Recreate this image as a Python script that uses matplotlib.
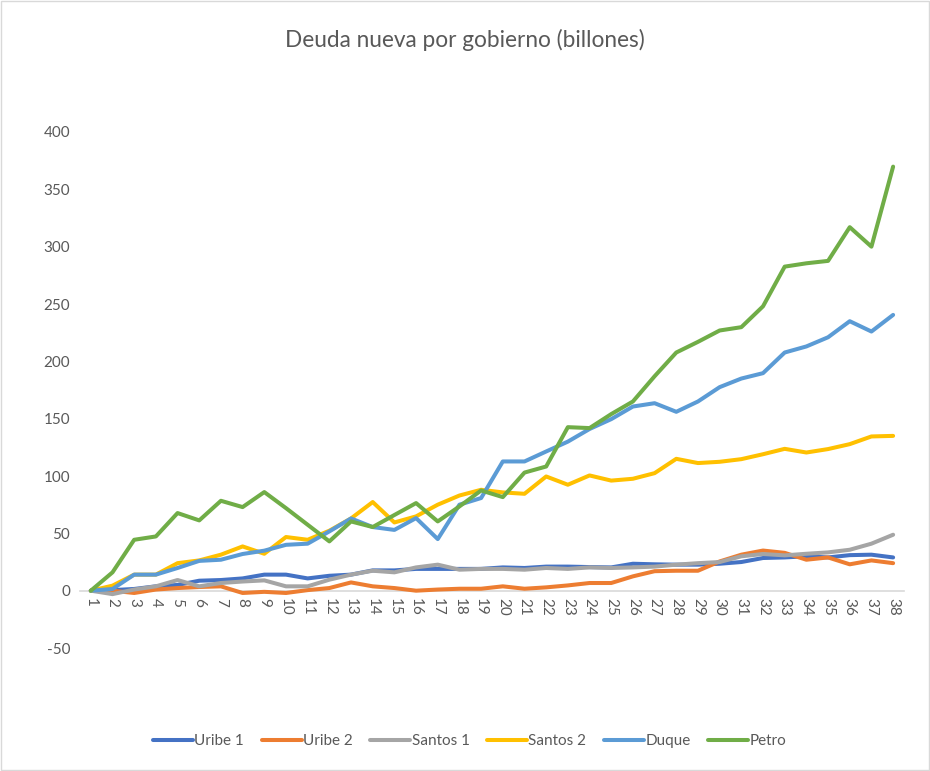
import matplotlib
matplotlib.use("Agg")
import matplotlib.pyplot as plt
from matplotlib.patches import Rectangle

plt.rcParams['font.family'] = ['Lato', 'DejaVu Sans']

periods = list(range(1, 39))
tick_labels = [str(p) for p in periods]

uribe1 = [0, 0.5, 1.5, 3.8, 5, 8.7, 9.3, 10.7, 14, 14, 10.7, 13, 14,
          17.7, 17.7, 19, 19, 19, 19, 20.3, 19.8, 21, 21, 20.6, 20.3,
          23.5, 23, 22.7, 22.7, 23.5, 25, 28.5, 29, 30, 29, 31, 31.4, 29]
uribe2 = [0, 0, -2, 1, 2.3, 3.2, 3.8, -2, -1, -2, 0.5, 2.3, 7.2,
          3.8, 2.3, 0, 1, 1.7, 1.7, 3.8, 1.7, 2.9, 4.6, 6.7, 6.7,
          12.5, 17, 17.4, 17.4, 25.5, 31.4, 35, 33, 27, 29, 23, 26.4, 24]
santos1 = [0, -3, 1, 3.8, 9.3, 3.8, 6.7, 8, 9, 3.8, 3.8, 9.6, 14,
           17.4, 16, 20.3, 22.7, 18.3, 19, 19, 18.3, 19.8, 19, 20.3, 19.8,
           20.3, 21, 22.7, 24, 25, 30, 32, 30.8, 32.2, 33.4, 35.7, 41, 48.8]
santos2 = [0, 4.4, 14, 14, 24, 26.4, 31.4, 38.6, 32.2, 46.8, 44.4, 52.3, 63,
           77.3, 59.5, 64.8, 75, 83, 88, 85.7, 84.5, 99.6, 92.4, 100.5, 96,
           97.6, 102.5, 115, 111.3, 112.4, 114.7, 119, 123.7, 120.5, 123.5, 127.8, 134.5, 135]
duque = [0, 1.5, 14, 14, 19.8, 26, 27, 32, 34.9, 40, 41, 51.7, 63,
         55.5, 53, 63.3, 45, 75, 80.8, 112.7, 112.7, 121.4, 130, 141, 149.6,
         160.6, 163.5, 156, 165, 177.5, 185, 189.7, 207.7, 213, 221, 235, 226, 240.5]
petro = [0, 16, 44.4, 47.3, 67.7, 61.3, 78.4, 72.9, 86, 72, 57.5, 43, 60.4,
         55.5, 66, 76.4, 60.4, 73.5, 87.4, 81.6, 103, 108.3, 142.6, 141.8, 154,
         165, 187, 207.7, 217, 226.9, 229.8, 248, 282.6, 285.5, 287.6, 317, 300, 369.8]

series_names = ['Uribe 1', 'Uribe 2', 'Santos 1', 'Santos 2', 'Duque', 'Petro']
series_values = [uribe1, uribe2, santos1, santos2, duque, petro]
colors = ['#4472C4', '#ED7D31', '#A5A5A5', '#FFC000', '#5B9BD5', '#70AD47']
yticks = [-50, 0, 50, 100, 150, 200, 250, 300, 350, 400]

text_color = '#595959'

fig = plt.figure(figsize=(9.3, 7.71), dpi=100)
ax = fig.add_axes([0.086, 0.1595, 0.886, 0.6693])

for name, vals, c in zip(series_names, series_values, colors):
    ax.plot(periods, vals, color=c, lw=2.9, label=name, solid_capstyle='round',
            solid_joinstyle='round')

ax.set_xlim(0.5, 38.5)
ax.set_ylim(-50, 400)
ax.set_yticks(yticks)
ax.set_yticklabels([str(v) for v in yticks])
ax.set_xticks(periods)
ax.set_xticklabels(tick_labels)

for s in ['top', 'right', 'left']:
    ax.spines[s].set_visible(False)
ax.spines['bottom'].set_position(('data', 0))
ax.spines['bottom'].set_color('#D9D9D9')
ax.spines['bottom'].set_linewidth(1.2)
ax.spines['bottom'].set_zorder(0)
ax.tick_params(axis='both', length=0, colors=text_color, labelsize=11)
ax.tick_params(axis='y', pad=7)
ax.tick_params(axis='x', pad=5, labelrotation=-90)
for lab in ax.get_xticklabels():
    lab.set_va('top')
    lab.set_ha('center')

fig.text(0.5, 0.948, 'Deuda nueva por gobierno (billones)', ha='center', va='center',
         fontsize=16.3, color=text_color)

leg = fig.legend(loc='center', bbox_to_anchor=(0.505, 0.039), ncol=6, frameon=False,
                 fontsize=11, handlelength=2.6, handletextpad=0.1, columnspacing=1.15,
                 labelcolor=text_color)

fig.add_artist(Rectangle((0.001, 0.001), 0.998, 0.998, transform=fig.transFigure,
                         fill=False, edgecolor='#D9D9D9', lw=1))

fig.savefig('out.png', dpi=100, facecolor='white')
